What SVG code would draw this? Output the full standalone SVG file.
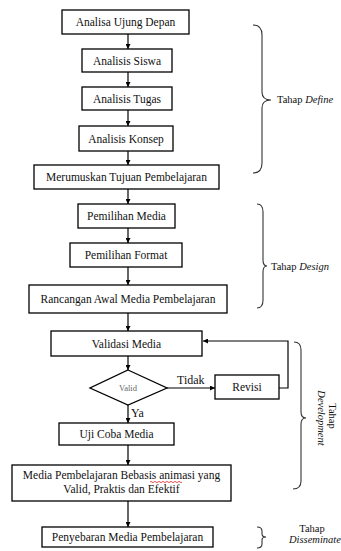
<svg xmlns="http://www.w3.org/2000/svg" width="341" height="551" viewBox="0 0 341 551">
<defs>
<style>
.box{fill:#fff;stroke:#000;stroke-width:1.3}
.t{font-family:"Liberation Serif","Times New Roman",serif;font-size:11.5px;fill:#111;text-anchor:middle}
.lbl{font-family:"Liberation Serif","Times New Roman",serif;font-size:12px;fill:#111}
.side{font-family:"Liberation Serif","Times New Roman",serif;font-size:10.5px;fill:#111}
.ln{fill:none;stroke:#000;stroke-width:1.2}
.brace{fill:none;stroke:#333;stroke-width:1.1}
</style>
<marker id="ah" viewBox="0 0 10 10" refX="10" refY="5" markerWidth="5" markerHeight="5" orient="auto" markerUnits="userSpaceOnUse">
<path d="M0,0 L10,5 L0,10 Z" fill="#000"/>
</marker>
</defs>
<rect width="341" height="551" fill="#fff"/>

<g id="connectors">
<line class="ln" x1="128" y1="34" x2="128" y2="49" marker-end="url(#ah)"/>
<line class="ln" x1="128" y1="72" x2="128" y2="87" marker-end="url(#ah)"/>
<line class="ln" x1="128" y1="110" x2="128" y2="126" marker-end="url(#ah)"/>
<line class="ln" x1="128" y1="151" x2="128" y2="165" marker-end="url(#ah)"/>
<line class="ln" x1="128" y1="189" x2="128" y2="204" marker-end="url(#ah)"/>
<line class="ln" x1="128" y1="228" x2="128" y2="243" marker-end="url(#ah)"/>
<line class="ln" x1="128" y1="267" x2="128" y2="285" marker-end="url(#ah)"/>
<line class="ln" x1="128" y1="313" x2="128" y2="331" marker-end="url(#ah)"/>
<line class="ln" x1="128" y1="356" x2="128" y2="370" marker-end="url(#ah)"/>
<line class="ln" x1="128" y1="405" x2="128" y2="423" marker-end="url(#ah)"/>
<line class="ln" x1="128" y1="445" x2="128" y2="465" marker-end="url(#ah)"/>
<line class="ln" x1="128" y1="501" x2="128" y2="527" marker-end="url(#ah)"/>
<line class="ln" x1="167" y1="388" x2="215" y2="388" marker-end="url(#ah)"/>
<path class="ln" d="M279,388 H288 V341 H203" marker-end="url(#ah)"/>
<text class="lbl" x="177" y="384">Tidak</text>
<text class="lbl" x="131" y="417">Ya</text>
</g>

<g id="n1"><rect class="box" x="62" y="10" width="127" height="24"/><text class="t" x="125.5" y="26">Analisa Ujung Depan</text></g>
<g id="n2"><rect class="box" x="82" y="49" width="90" height="23"/><text class="t" x="127" y="64.5">Analisis Siswa</text></g>
<g id="n3"><rect class="box" x="82" y="87" width="90" height="23"/><text class="t" x="127" y="102.5">Analisis Tugas</text></g>
<g id="n4"><rect class="box" x="79" y="126" width="94" height="25"/><text class="t" x="126" y="142.5">Analisis Konsep</text></g>
<g id="n5"><rect class="box" x="34" y="165" width="185" height="24"/><text class="t" x="126.5" y="181">Merumuskan Tujuan Pembelajaran</text></g>
<g id="n6"><rect class="box" x="78" y="204" width="97" height="24"/><text class="t" x="126.5" y="220">Pemilihan Media</text></g>
<g id="n7"><rect class="box" x="70" y="243" width="112" height="24"/><text class="t" x="126" y="259">Pemilihan Format</text></g>
<g id="n8"><rect class="box" x="29" y="285" width="198" height="28"/><text class="t" x="128" y="303">Rancangan Awal Media Pembelajaran</text></g>
<g id="n9"><rect class="box" x="51" y="331" width="151" height="25"/><text class="t" x="126.5" y="347.5">Validasi Media</text></g>
<g id="n10"><polygon class="box" points="128,370 167,388 128,405 90,388"/><text x="128" y="391" text-anchor="middle" font-family="Liberation Serif, Times New Roman, serif" font-size="8.5" fill="#666">Valid</text></g>
<g id="n11"><rect class="box" x="215" y="375" width="64" height="24"/><text class="t" x="247" y="391">Revisi</text></g>
<g id="n12"><rect class="box" x="59" y="423" width="115" height="22"/><text class="t" x="116.5" y="438">Uji Coba Media</text></g>
<g id="n13"><rect class="box" x="12" y="465" width="219" height="36"/>
<text class="t" x="121.5" y="479">Media Pembelajaran Bebasis animasi yang</text>
<text class="t" x="121.5" y="493">Valid, Praktis dan Efektif</text>
<path d="M150,482 q1,-1.2 2,0 t2,0 t2,0 t2,0 t2,0 t2,0 t2,0 t2,0 t2,0 t2,0 t2,0 t2,0 t2,0 t2,0 t2,0 t2,0" fill="none" stroke="#d22" stroke-width="0.8"/>
</g>
<g id="n14"><rect class="box" x="42" y="527" width="171" height="20"/><text class="t" x="127.5" y="541">Penyebaran Media Pembelajaran</text></g>

<g id="define">
<path class="brace" d="M253,25 Q262,25 262,35 V92 Q262,100 271,100 Q262,100 262,108 V163 Q262,173 253,173"/>
<text class="side" x="277" y="103">Tahap <tspan font-style="italic">Define</tspan></text>
</g>
<g id="design">
<path class="brace" d="M257,204 Q263,204 263,212 V260 Q263,266 267,266 Q263,266 263,272 V300 Q263,308 257,308"/>
<text class="side" x="271" y="270">Tahap <tspan font-style="italic">Design</tspan></text>
</g>
<g id="development">
<path class="brace" d="M294,342 Q301,342 301,350 V412 Q301,418 306,418 Q301,418 301,424 V481 Q301,489 293,489"/>
<text class="side" text-anchor="middle" transform="translate(329,416) rotate(90)">Tahap</text>
<text class="side" text-anchor="middle" font-style="italic" transform="translate(317.5,418) rotate(90)">Development</text>
</g>
<g id="disseminate">
<path class="brace" d="M257,527 Q262,527 262,531 V534 Q262,537 266,537 Q262,537 262,540 V544 Q262,548 257,548"/>
<text class="side" text-anchor="middle" x="312" y="532">Tahap</text>
<text class="side" font-style="italic" x="289" y="543">Disseminate</text>
</g>
</svg>
